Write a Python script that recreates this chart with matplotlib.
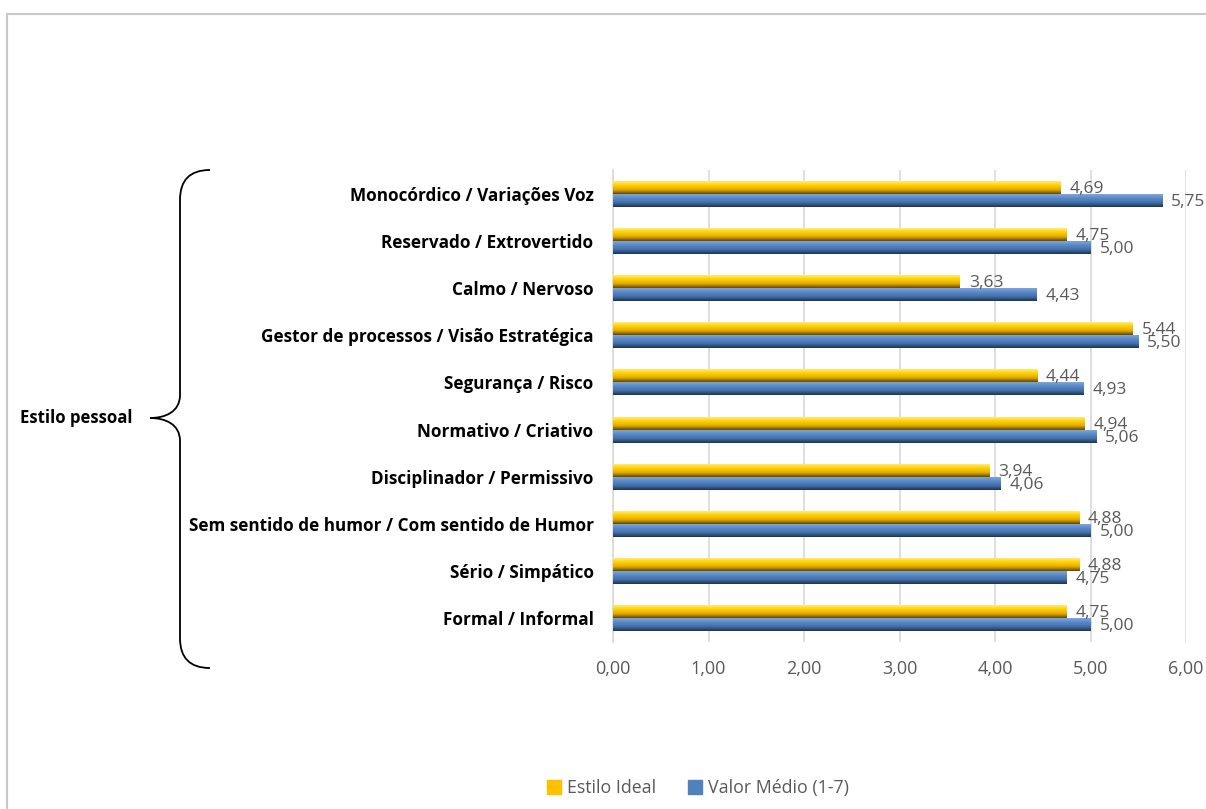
import matplotlib.pyplot as plt
import numpy as np
from matplotlib.colors import LinearSegmentedColormap
from matplotlib.lines import Line2D
from matplotlib.patches import PathPatch
from matplotlib.path import Path

plt.rcParams["font.family"] = ["Open Sans", "DejaVu Sans"]

categories = [
    "Monocórdico / Variações Voz",
    "Reservado / Extrovertido",
    "Calmo / Nervoso",
    "Gestor de processos / Visão Estratégica",
    "Segurança / Risco",
    "Normativo / Criativo",
    "Disciplinador / Permissivo",
    "Sem sentido de humor / Com sentido de Humor",
    "Sério / Simpático",
    "Formal / Informal",
]
estilo_ideal = [4.69, 4.75, 3.63, 5.44, 4.44, 4.94, 3.94, 4.88, 4.88, 4.75]
valor_medio = [5.75, 5.00, 4.43, 5.50, 4.93, 5.06, 4.06, 5.00, 4.75, 5.00]
series_names = ["Estilo Ideal", "Valor Médio (1-7)"]
x_ticks = [0, 1, 2, 3, 4, 5, 6]
group_label = "Estilo pessoal"

YELLOW = "#FFC000"
BLUE = "#4F81BD"
GREY_TEXT = "#595959"

# vertical shading used on each bar (top -> bottom)
yellow_shade = LinearSegmentedColormap.from_list(
    "ys", [(0, "#FFEB7A"), (0.3, "#FFD200"), (0.65, "#E6AC00"), (0.85, "#9C7600"), (1, "#5E4700")])
blue_shade = LinearSegmentedColormap.from_list(
    "bs", [(0, "#7FA6DA"), (0.3, "#5A8ACB"), (0.65, "#4470A8"), (0.85, "#2E4E78"), (1, "#1E3350")])


def fmt(v):
    return f"{v:.2f}".replace(".", ",")


fig = plt.figure(figsize=(12.06, 8.09), dpi=100)
ax = fig.add_axes([613 / 1206, 1 - 642 / 809, 573 / 1206, 472 / 809])

y = np.arange(len(categories))
h = 0.275
bars_y = ax.barh(y - h / 2, estilo_ideal, height=h, color=YELLOW, zorder=2)
bars_b = ax.barh(y + h / 2, valor_medio, height=h, color=BLUE, zorder=2)

grad = np.linspace(0, 1, 64).reshape(-1, 1)
for bars, cmap in ((bars_y, yellow_shade), (bars_b, blue_shade)):
    for p in bars:
        x0, y0, w, hh = p.get_x(), p.get_y(), p.get_width(), p.get_height()
        ax.imshow(grad, cmap=cmap, aspect="auto", origin="upper",
                  extent=(x0, x0 + w, y0 + hh, y0), zorder=3, interpolation="bilinear")
    for p in bars:
        ax.text(p.get_width() + 0.095, p.get_y() + p.get_height() / 2 + 0.03, fmt(p.get_width()),
                va="center", ha="left", fontsize=12.5, color=GREY_TEXT, zorder=4)

ax.set_xlim(0, 6)
ax.set_ylim(len(categories) - 0.5, -0.5)
ax.set_xticks(x_ticks)
ax.set_xticklabels([fmt(v) for v in x_ticks], color=GREY_TEXT, fontsize=13)
ax.set_yticks(y)
ax.set_yticklabels(categories, fontsize=12.3, fontweight="bold", color="black")
ax.tick_params(axis="x", length=0, pad=13)
ax.tick_params(axis="y", length=0, pad=14)
ax.grid(axis="x", color="#D9D9D9", linewidth=1.2, zorder=0)
ax.set_axisbelow(True)
for side in ("top", "right", "bottom"):
    ax.spines[side].set_visible(False)
ax.spines["left"].set_color("#D9D9D9")
ax.spines["left"].set_linewidth(1.2)

# overlay in pixel coordinates for the brace and the outer frame
ov = fig.add_axes([0, 0, 1, 1], zorder=-1)
ov.set_xlim(0, 1206)
ov.set_ylim(809, 0)
ov.axis("off")

brace = Path(
    [(210, 170), (190, 170), (180, 180), (180, 200),
     (180, 395),
     (180, 412), (165, 418), (150, 418),
     (165, 418), (180, 424), (180, 441),
     (180, 638),
     (180, 658), (190, 668), (210, 668)],
    [Path.MOVETO, Path.CURVE4, Path.CURVE4, Path.CURVE4,
     Path.LINETO,
     Path.CURVE4, Path.CURVE4, Path.CURVE4,
     Path.CURVE4, Path.CURVE4, Path.CURVE4,
     Path.LINETO,
     Path.CURVE4, Path.CURVE4, Path.CURVE4])
ov.add_patch(PathPatch(brace, facecolor="none", edgecolor="black", linewidth=1.3))
ov.text(20, 418, group_label, fontsize=12.1, fontweight="bold", va="center", ha="left")

ov.plot([7, 1206], [14, 14], color="#C8C8C8", linewidth=1.5)
ov.plot([7, 7], [14, 809], color="#C8C8C8", linewidth=1.5)

handles = [Line2D([], [], marker="s", linestyle="none", markersize=9.5, color=c)
           for c in (YELLOW, BLUE)]
fig.legend(handles, series_names, loc="center", bbox_to_anchor=(0.578, 1 - 788 / 809),
           ncol=2, frameon=False, fontsize=12.8, handlelength=1.0, handletextpad=0.25,
           columnspacing=1.7, labelcolor=GREY_TEXT)

fig.savefig("out.png", dpi=100)
